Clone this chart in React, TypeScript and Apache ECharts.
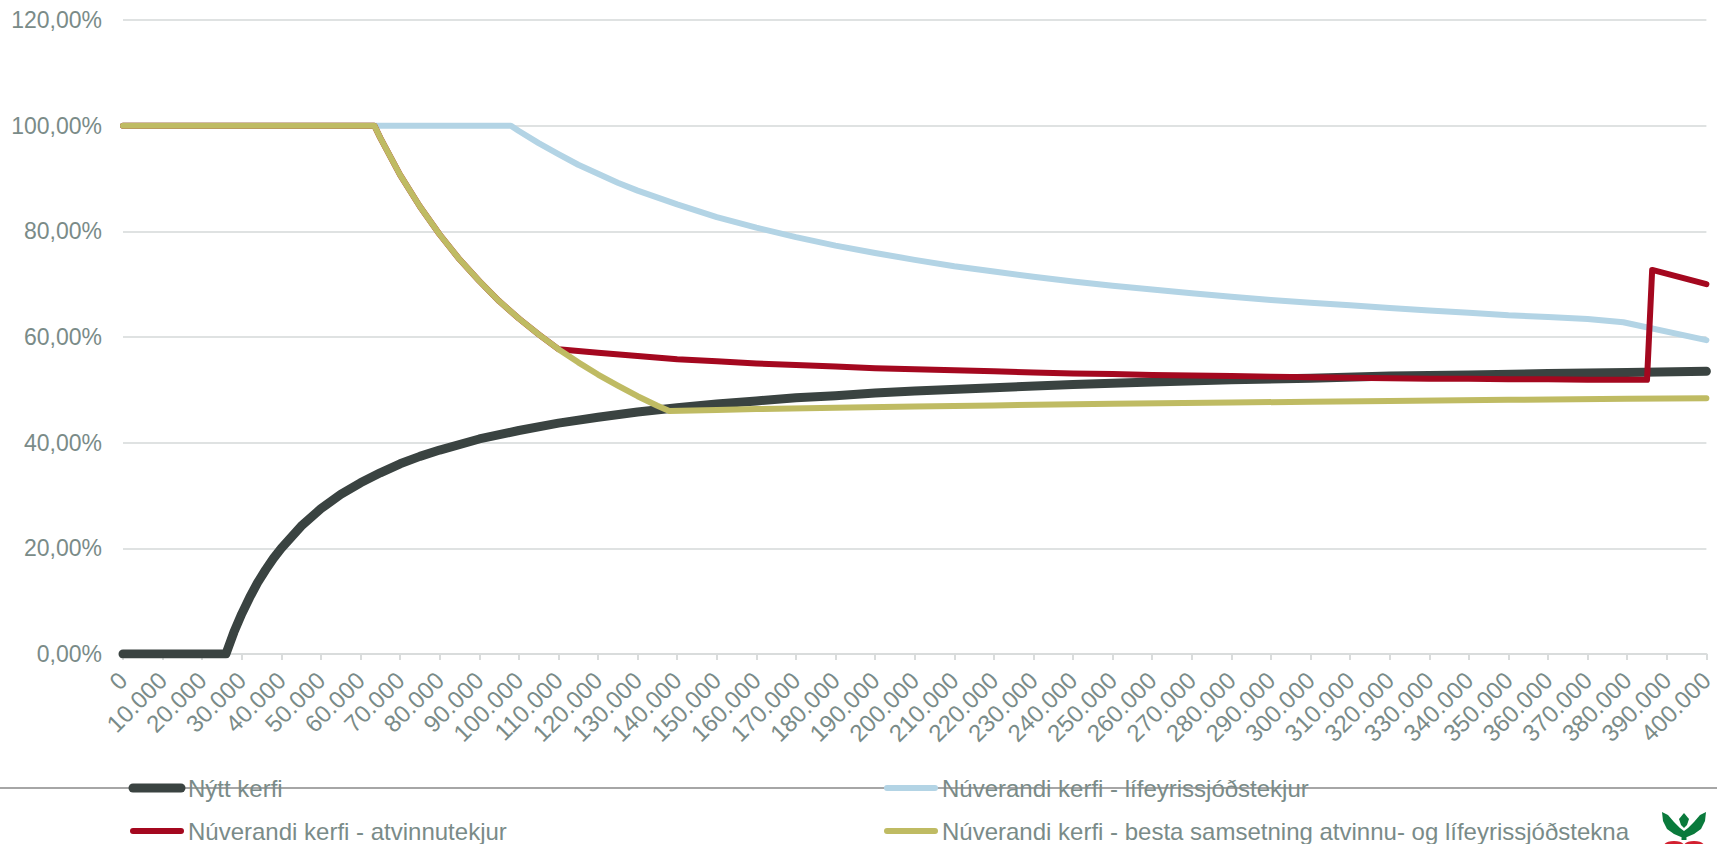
import React, { useEffect, useRef } from "react";
import * as echarts from "echarts";

const xTickLabels = [
  "0", "10.000", "20.000", "30.000", "40.000", "50.000", "60.000", "70.000", "80.000", "90.000",
  "100.000", "110.000", "120.000", "130.000", "140.000", "150.000", "160.000", "170.000", "180.000", "190.000",
  "200.000", "210.000", "220.000", "230.000", "240.000", "250.000", "260.000", "270.000", "280.000", "290.000",
  "300.000", "310.000", "320.000", "330.000", "340.000", "350.000", "360.000", "370.000", "380.000", "390.000",
  "400.000",
];
const yTickLabels = ["0,00%", "20,00%", "40,00%", "60,00%", "80,00%", "100,00%", "120,00%"];

const seriesNames = [
  "Nýtt kerfi",
  "Núverandi kerfi - lífeyrissjóðstekjur",
  "Núverandi kerfi - atvinnutekjur",
  "Núverandi kerfi - besta samsetning atvinnu- og lífeyrissjóðstekna",
];

const nyttKerfi: [number, number][] = [
  [0, 0], [26000, 0], [28000, 4.1], [30000, 7.6], [32000, 10.7], [34000, 13.5], [36000, 15.9],
  [38000, 18.1], [40000, 20.0], [45000, 24.2], [50000, 27.5], [55000, 30.2], [60000, 32.4],
  [65000, 34.3], [70000, 36.0], [75000, 37.4], [80000, 38.6], [90000, 40.7], [100000, 42.3],
  [110000, 43.7], [120000, 44.8], [130000, 45.8], [140000, 46.6], [150000, 47.3], [160000, 47.9],
  [170000, 48.5], [180000, 48.9], [190000, 49.4], [200000, 49.8], [220000, 50.4], [240000, 51.0],
  [260000, 51.5], [280000, 51.9], [300000, 52.2], [320000, 52.6], [340000, 52.8], [360000, 53.1],
  [380000, 53.3], [400000, 53.5],
];

const lifeyrir: [number, number][] = [
  [0, 100], [98000, 100], [100000, 99.0], [105000, 96.7], [110000, 94.6], [115000, 92.6],
  [120000, 90.9], [125000, 89.2], [130000, 87.7], [140000, 85.1], [150000, 82.7], [160000, 80.7],
  [170000, 78.9], [180000, 77.3], [190000, 75.9], [200000, 74.6], [210000, 73.4], [220000, 72.4],
  [230000, 71.4], [240000, 70.5], [250000, 69.7], [260000, 69.0], [270000, 68.3], [280000, 67.6],
  [290000, 67.0], [300000, 66.5], [310000, 66.0], [320000, 65.5], [330000, 65.0], [340000, 64.6],
  [350000, 64.1], [360000, 63.8], [370000, 63.4], [379000, 62.8], [400000, 59.4],
];

const atvinna: [number, number][] = [
  [0, 100], [63500, 100], [65000, 97.7], [70000, 90.7], [75000, 84.7], [80000, 79.4], [85000, 74.7],
  [90000, 70.6], [95000, 66.8], [100000, 63.5], [105000, 60.5], [110000, 57.7], [120000, 57.0],
  [130000, 56.4], [140000, 55.8], [150000, 55.4], [160000, 55.0], [170000, 54.7], [180000, 54.4],
  [190000, 54.1], [200000, 53.9], [210000, 53.7], [220000, 53.5], [230000, 53.3], [240000, 53.1],
  [250000, 53.0], [260000, 52.8], [270000, 52.7], [280000, 52.6], [290000, 52.5], [300000, 52.4],
  [310000, 52.3], [320000, 52.2], [330000, 52.1], [340000, 52.1], [350000, 52.0], [360000, 52.0],
  [370000, 51.9], [385000, 51.9], [386300, 72.7], [400000, 70.0],
];

const besta: [number, number][] = [
  [0, 100], [63500, 100], [65000, 97.7], [70000, 90.7], [75000, 84.7], [80000, 79.4], [85000, 74.7],
  [90000, 70.6], [95000, 66.8], [100000, 63.5], [105000, 60.5], [110000, 57.7], [115000, 55.2],
  [120000, 52.9], [125000, 50.8], [130000, 48.8], [135000, 47.0], [138000, 46.0], [150000, 46.2],
  [160000, 46.35], [180000, 46.6], [200000, 46.85], [220000, 47.05], [250000, 47.35], [280000, 47.6],
  [300000, 47.75], [320000, 47.9], [350000, 48.1], [380000, 48.3], [400000, 48.4],
];

const colors = ["#3a4341", "#b3d4e5", "#a4081f", "#bfbb63"];
const widths = [9, 6, 6, 6];

const FONT = "'Liberation Sans', Arial, sans-serif";
const TEXT = "#7a8b88";
const GREEN = "#0a7a3c";
const RED = "#d3202f";

export default function App() {
  const ref = useRef<HTMLDivElement>(null);
  useEffect(() => {
    if (!ref.current) return;
    const chart = echarts.init(ref.current, undefined, { renderer: "svg" });
    const datasets = [nyttKerfi, lifeyrir, atvinna, besta];

    const legendPos = [
      { x: 133, y: 788 },
      { x: 887, y: 788 },
      { x: 133, y: 831 },
      { x: 887, y: 831 },
    ];
    const legendGraphics: any[] = [];
    seriesNames.forEach((name, i) => {
      const p = legendPos[i];
      legendGraphics.push({
        type: "line",
        z: 10,
        shape: { x1: p.x, y1: p.y, x2: p.x + 48, y2: p.y },
        style: { stroke: colors[i], lineWidth: i === 0 ? 9 : 6, lineCap: "round" },
      });
      legendGraphics.push({
        type: "text",
        z: 10,
        x: p.x + 55,
        y: p.y,
        style: {
          text: name,
          fill: TEXT,
          font: `24px ${FONT}`,
          verticalAlign: "middle",
          align: "left",
        },
      });
    });

    chart.setOption({
      animation: false,
      backgroundColor: "#ffffff",
      textStyle: { fontFamily: FONT },
      grid: { left: 123, right: 10, top: 20, bottom: 190, containLabel: false },
      xAxis: {
        type: "value",
        min: 0,
        max: 400000,
        interval: 10000,
        axisLine: { show: true, onZero: true, lineStyle: { color: "#d9dcdc", width: 2 } },
        axisTick: { show: true, length: 6, lineStyle: { color: "#d9dcdc", width: 2 } },
        splitLine: { show: false },
        axisLabel: {
          rotate: 45,
          fontSize: 24,
          color: TEXT,
          margin: 22,
          fontFamily: FONT,
          showMaxLabel: true,
          showMinLabel: true,
          formatter: (v: number) => xTickLabels[Math.round(v / 10000)] ?? "",
        },
      },
      yAxis: {
        type: "value",
        min: 0,
        max: 120,
        interval: 20,
        axisLine: { show: false },
        axisTick: { show: false },
        splitLine: { show: true, lineStyle: { color: "#dfe2e2", width: 2 } },
        axisLabel: {
          fontSize: 23,
          color: TEXT,
          margin: 21,
          fontFamily: FONT,
          formatter: (v: number) => yTickLabels[Math.round(v / 20)] ?? "",
        },
      },
      series: datasets.map((d, i) => ({
        type: "line",
        name: seriesNames[i],
        data: d,
        symbol: "none",
        smooth: false,
        z: 2 + i,
        lineStyle: { color: colors[i], width: widths[i], cap: "round", join: "round" },
        itemStyle: { color: colors[i] },
      })),
      graphic: [
        {
          type: "line",
          z: 5,
          shape: { x1: 0, y1: 788, x2: 1717, y2: 788 },
          style: { stroke: "#a6a6a6", lineWidth: 2 },
        },
        ...legendGraphics,
        {
          type: "group",
          x: 1661,
          y: 812,
          z: 10,
          children: [
            {
              type: "polygon",
              shape: {
                points: [[1, 0], [7, 3], [13, 10], [19, 16], [23, 19], [27, 16], [33, 10], [39, 3], [45, 0],
                  [44, 9], [40, 17], [33, 22], [26, 25], [23, 25], [20, 25], [13, 22], [6, 17], [2, 9]],
              },
              style: { fill: GREEN },
            },
            {
              type: "polygon",
              shape: { points: [[23, 1], [28, 7], [26, 13], [23, 16], [20, 13], [18, 7]] },
              style: { fill: GREEN },
            },
            { type: "rect", shape: { x: 20.5, y: 24, width: 5, height: 4 }, style: { fill: GREEN } },
            { type: "ellipse", shape: { cx: 13, cy: 33.5, rx: 10, ry: 4.5 }, style: { fill: RED } },
            { type: "ellipse", shape: { cx: 33, cy: 33.5, rx: 10, ry: 4.5 }, style: { fill: RED } },
          ],
        },
      ],
    });
    return () => chart.dispose();
  }, []);
  return (
    <div
      ref={ref}
      style={{ position: "fixed", left: 0, top: 0, width: 1717, height: 844, background: "#fff" }}
    />
  );
}
